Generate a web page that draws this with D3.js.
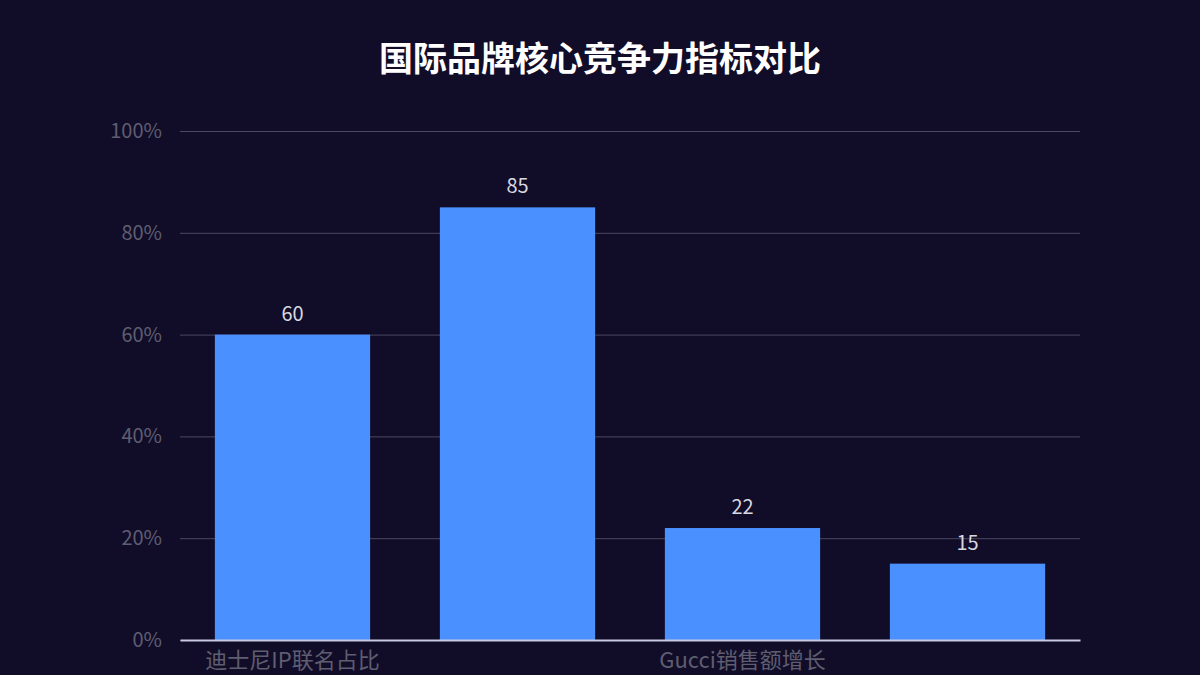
<!DOCTYPE html>
<html><head><meta charset="utf-8">
<script src="https://cdn.jsdelivr.net/npm/d3@7"></script>
<style>body{margin:0;background:#110d29;}text{font-family:"Noto Sans CJK SC","Noto Sans",sans-serif;}</style>
</head><body><svg id="svg1"></svg>
<script>
const categories = ["迪士尼IP联名占比", "国际品牌认知度", "Gucci销售额增长", "本土品牌份额"];
const values = [60, 85, 22, 15];
const yTicks = [0, 20, 40, 60, 80, 100];
const width = 1200, height = 675;
const margin = {top: 131, right: 120, bottom: 35, left: 180};

const svg = d3.select("#svg1").attr("width", width).attr("height", height);
svg.append("rect").attr("width", width).attr("height", height).attr("fill", "#110d29");

const x = d3.scaleBand().domain(categories).range([margin.left, width - margin.right]).paddingInner(0.31).paddingOuter(0.155);
const y = d3.scaleLinear().domain([0, 100]).range([height - margin.bottom, margin.top]);

svg.append("text").attr("x", width / 2).attr("y", 71).attr("text-anchor", "middle")
  .attr("fill", "#fff").attr("font-size", 34).attr("font-weight", "bold").text("国际品牌核心竞争力指标对比");

svg.append("g").attr("transform", `translate(${margin.left},0)`)
  .call(d3.axisLeft(y).tickValues(yTicks).tickFormat(d => d + "%").tickSize(-(width - margin.left - margin.right)).tickPadding(18))
  .call(g => g.select(".domain").remove())
  .call(g => g.selectAll(".tick line").attr("stroke", "#4a4860"))
  .call(g => g.selectAll(".tick text").attr("fill", "#5f5d70").attr("font-size", 20));

svg.selectAll(".bar").data(values).join("rect")
  .attr("x", (d, i) => x(categories[i])).attr("width", x.bandwidth())
  .attr("y", d => y(d)).attr("height", d => y(0) - y(d)).attr("fill", "#4a90ff");

svg.selectAll(".val").data(values).join("text")
  .attr("x", (d, i) => x(categories[i]) + x.bandwidth() / 2).attr("y", d => y(d) - 14)
  .attr("text-anchor", "middle").attr("fill", "#d8d8e0").attr("font-size", 20).text(d => d);

svg.append("g").attr("transform", `translate(0,${y(0)})`)
  .call(d3.axisBottom(x).tickSize(0).tickPadding(12).tickFormat((d, i) => i % 2 === 0 ? d : ""))
  .call(g => g.select(".domain").attr("stroke", "#c8c8e0").attr("stroke-width", 2))
  .call(g => g.selectAll(".tick text").attr("fill", "#5f5d70").attr("font-size", 22));
</script></body></html>
